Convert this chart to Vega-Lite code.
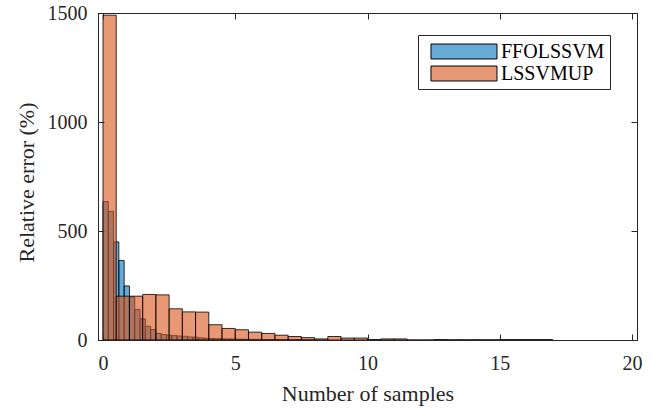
{
  "$schema": "https://vega.github.io/schema/vega-lite/v6.json",
  "autosize": {"type": "none"},
  "padding": {"left": 98, "top": 13, "right": 27, "bottom": 68},
  "width": 539,
  "height": 327,
  "background": "white",
  "config": {
    "view": {"stroke": "#262626", "strokeWidth": 1},
    "font": "Liberation Serif",
    "axis": {
      "grid": false,
      "domainColor": "#262626",
      "tickColor": "#262626",
      "labelColor": "#262626",
      "titleColor": "#262626",
      "labelFont": "Liberation Serif",
      "titleFont": "Liberation Serif",
      "labelFontSize": 20,
      "titleFontSize": 22,
      "titleFontWeight": "normal",
      "tickSize": -6
    }
  },
  "data": {
    "values": [
      {"s": "FFOLSSVM", "a": 0.0, "b": 0.2, "n": 635},
      {"s": "FFOLSSVM", "a": 0.2, "b": 0.4, "n": 590},
      {"s": "FFOLSSVM", "a": 0.4, "b": 0.6, "n": 450},
      {"s": "FFOLSSVM", "a": 0.6, "b": 0.8, "n": 365},
      {"s": "FFOLSSVM", "a": 0.8, "b": 1.0, "n": 248},
      {"s": "FFOLSSVM", "a": 1.0, "b": 1.2, "n": 198},
      {"s": "FFOLSSVM", "a": 1.2, "b": 1.4, "n": 140},
      {"s": "FFOLSSVM", "a": 1.4, "b": 1.6, "n": 97},
      {"s": "FFOLSSVM", "a": 1.6, "b": 1.8, "n": 63},
      {"s": "FFOLSSVM", "a": 1.8, "b": 2.0, "n": 48},
      {"s": "FFOLSSVM", "a": 2.0, "b": 2.2, "n": 30},
      {"s": "FFOLSSVM", "a": 2.2, "b": 2.4, "n": 25},
      {"s": "FFOLSSVM", "a": 2.4, "b": 2.6, "n": 22},
      {"s": "FFOLSSVM", "a": 2.6, "b": 2.8, "n": 20},
      {"s": "FFOLSSVM", "a": 2.8, "b": 3.0, "n": 18},
      {"s": "FFOLSSVM", "a": 3.0, "b": 3.2, "n": 17},
      {"s": "FFOLSSVM", "a": 3.2, "b": 3.4, "n": 14},
      {"s": "FFOLSSVM", "a": 3.4, "b": 3.6, "n": 13},
      {"s": "FFOLSSVM", "a": 3.6, "b": 3.8, "n": 10},
      {"s": "FFOLSSVM", "a": 3.8, "b": 4.0, "n": 8},
      {"s": "FFOLSSVM", "a": 4.0, "b": 4.2, "n": 7},
      {"s": "FFOLSSVM", "a": 4.2, "b": 4.4, "n": 6},
      {"s": "FFOLSSVM", "a": 4.4, "b": 4.6, "n": 6},
      {"s": "FFOLSSVM", "a": 4.6, "b": 4.8, "n": 5},
      {"s": "FFOLSSVM", "a": 4.8, "b": 5.0, "n": 5},
      {"s": "FFOLSSVM", "a": 5.0, "b": 5.2, "n": 4},
      {"s": "FFOLSSVM", "a": 5.2, "b": 5.4, "n": 4},
      {"s": "FFOLSSVM", "a": 5.4, "b": 5.6, "n": 3},
      {"s": "FFOLSSVM", "a": 5.6, "b": 5.8, "n": 3},
      {"s": "FFOLSSVM", "a": 5.8, "b": 6.0, "n": 3},
      {"s": "FFOLSSVM", "a": 6.0, "b": 6.2, "n": 2},
      {"s": "FFOLSSVM", "a": 6.2, "b": 6.4, "n": 2},
      {"s": "FFOLSSVM", "a": 6.4, "b": 6.6, "n": 2},
      {"s": "FFOLSSVM", "a": 6.6, "b": 6.8, "n": 2},
      {"s": "FFOLSSVM", "a": 6.8, "b": 7.0, "n": 2},
      {"s": "FFOLSSVM", "a": 7.0, "b": 7.2, "n": 1},
      {"s": "FFOLSSVM", "a": 7.2, "b": 7.4, "n": 1},
      {"s": "FFOLSSVM", "a": 7.4, "b": 7.6, "n": 1},
      {"s": "FFOLSSVM", "a": 7.6, "b": 7.8, "n": 1},
      {"s": "FFOLSSVM", "a": 7.8, "b": 8.0, "n": 1},
      {"s": "LSSVMUP", "a": 0.0, "b": 0.5, "n": 1490},
      {"s": "LSSVMUP", "a": 0.5, "b": 1.0, "n": 201},
      {"s": "LSSVMUP", "a": 1.0, "b": 1.5, "n": 201},
      {"s": "LSSVMUP", "a": 1.5, "b": 2.0, "n": 209},
      {"s": "LSSVMUP", "a": 2.0, "b": 2.5, "n": 207},
      {"s": "LSSVMUP", "a": 2.5, "b": 3.0, "n": 143},
      {"s": "LSSVMUP", "a": 3.0, "b": 3.5, "n": 129},
      {"s": "LSSVMUP", "a": 3.5, "b": 4.0, "n": 128},
      {"s": "LSSVMUP", "a": 4.0, "b": 4.5, "n": 70},
      {"s": "LSSVMUP", "a": 4.5, "b": 5.0, "n": 53},
      {"s": "LSSVMUP", "a": 5.0, "b": 5.5, "n": 47},
      {"s": "LSSVMUP", "a": 5.5, "b": 6.0, "n": 36},
      {"s": "LSSVMUP", "a": 6.0, "b": 6.5, "n": 30},
      {"s": "LSSVMUP", "a": 6.5, "b": 7.0, "n": 22},
      {"s": "LSSVMUP", "a": 7.0, "b": 7.5, "n": 16},
      {"s": "LSSVMUP", "a": 7.5, "b": 8.0, "n": 11},
      {"s": "LSSVMUP", "a": 8.0, "b": 8.5, "n": 5},
      {"s": "LSSVMUP", "a": 8.5, "b": 9.0, "n": 16},
      {"s": "LSSVMUP", "a": 9.0, "b": 9.5, "n": 9},
      {"s": "LSSVMUP", "a": 9.5, "b": 10.0, "n": 9},
      {"s": "LSSVMUP", "a": 10.0, "b": 10.5, "n": 2},
      {"s": "LSSVMUP", "a": 10.5, "b": 11.0, "n": 5},
      {"s": "LSSVMUP", "a": 11.0, "b": 11.5, "n": 5},
      {"s": "LSSVMUP", "a": 11.5, "b": 12.0, "n": 0},
      {"s": "LSSVMUP", "a": 12.0, "b": 12.5, "n": 0},
      {"s": "LSSVMUP", "a": 12.5, "b": 13.0, "n": 2},
      {"s": "LSSVMUP", "a": 13.0, "b": 13.5, "n": 1},
      {"s": "LSSVMUP", "a": 13.5, "b": 14.0, "n": 1},
      {"s": "LSSVMUP", "a": 14.0, "b": 14.5, "n": 1},
      {"s": "LSSVMUP", "a": 14.5, "b": 15.0, "n": 1},
      {"s": "LSSVMUP", "a": 15.0, "b": 15.5, "n": 2},
      {"s": "LSSVMUP", "a": 15.5, "b": 16.0, "n": 2},
      {"s": "LSSVMUP", "a": 16.0, "b": 16.5, "n": 2},
      {"s": "LSSVMUP", "a": 16.5, "b": 17.0, "n": 2}
    ]
  },
  "layer": [
    {
      "mark": {"type": "bar", "orient": "vertical", "fillOpacity": 0.6, "stroke": "#000000", "strokeWidth": 1, "strokeOpacity": 0.8, "clip": true},
      "encoding": {
        "x": {
          "field": "a", "type": "quantitative",
          "scale": {"domain": [0, 20], "nice": false, "zero": false},
          "axis": {"values": [0, 5, 10, 15, 20], "title": "Number of samples", "labelPadding": 19, "titleY": 60, "titleBaseline": "alphabetic"}
        },
        "x2": {"field": "b"},
        "y": {
          "field": "n", "type": "quantitative", "stack": null,
          "scale": {"domain": [0, 1500], "nice": false},
          "axis": {"values": [0, 500, 1000, 1500], "format": "d", "title": "Relative error (%)", "labelPadding": 17, "titleX": -72, "titleY": 169, "titleBaseline": "middle"}
        },
        "y2": {"datum": 0},
        "color": {
          "field": "s", "type": "nominal",
          "scale": {"domain": ["FFOLSSVM", "LSSVMUP"], "range": ["#0072BD", "#D95319"]},
          "legend": {
            "title": null,
            "orient": "none",
            "legendX": 320,
            "legendY": 22,
            "padding": 5,
            "strokeColor": "#262626",
            "fillColor": "white",
            "symbolType": "M-0.32,-0.68H5.68V0.68H-0.32Z",
            "symbolSize": 484,
            "symbolStrokeWidth": 1,
            "symbolStrokeColor": "#000000",
            "labelFont": "Liberation Serif",
            "labelFontSize": 20,
            "labelColor": "#000000",
            "labelOffset": 55,
            "rowPadding": 0,
            "encode": {"symbols": {"update": {"fillOpacity": {"value": 0.6}, "opacity": {"value": 1}, "stroke": {"value": "#000000"}}}}
          }
        }
      }
    },
    {
      "mark": {"type": "bar", "orient": "vertical", "opacity": 0},
      "encoding": {
        "x": {"field": "a", "type": "quantitative", "axis": {"orient": "top", "values": [0, 5, 10, 15, 20], "labels": false, "title": null, "domain": false}},
        "x2": {"field": "b"},
        "y": {"field": "n", "type": "quantitative", "stack": null, "axis": {"orient": "right", "values": [0, 500, 1000, 1500], "labels": false, "title": null, "domain": false}},
        "y2": {"datum": 0}
      }
    }
  ],
  "resolve": {"axis": {"x": "independent", "y": "independent"}}
}
